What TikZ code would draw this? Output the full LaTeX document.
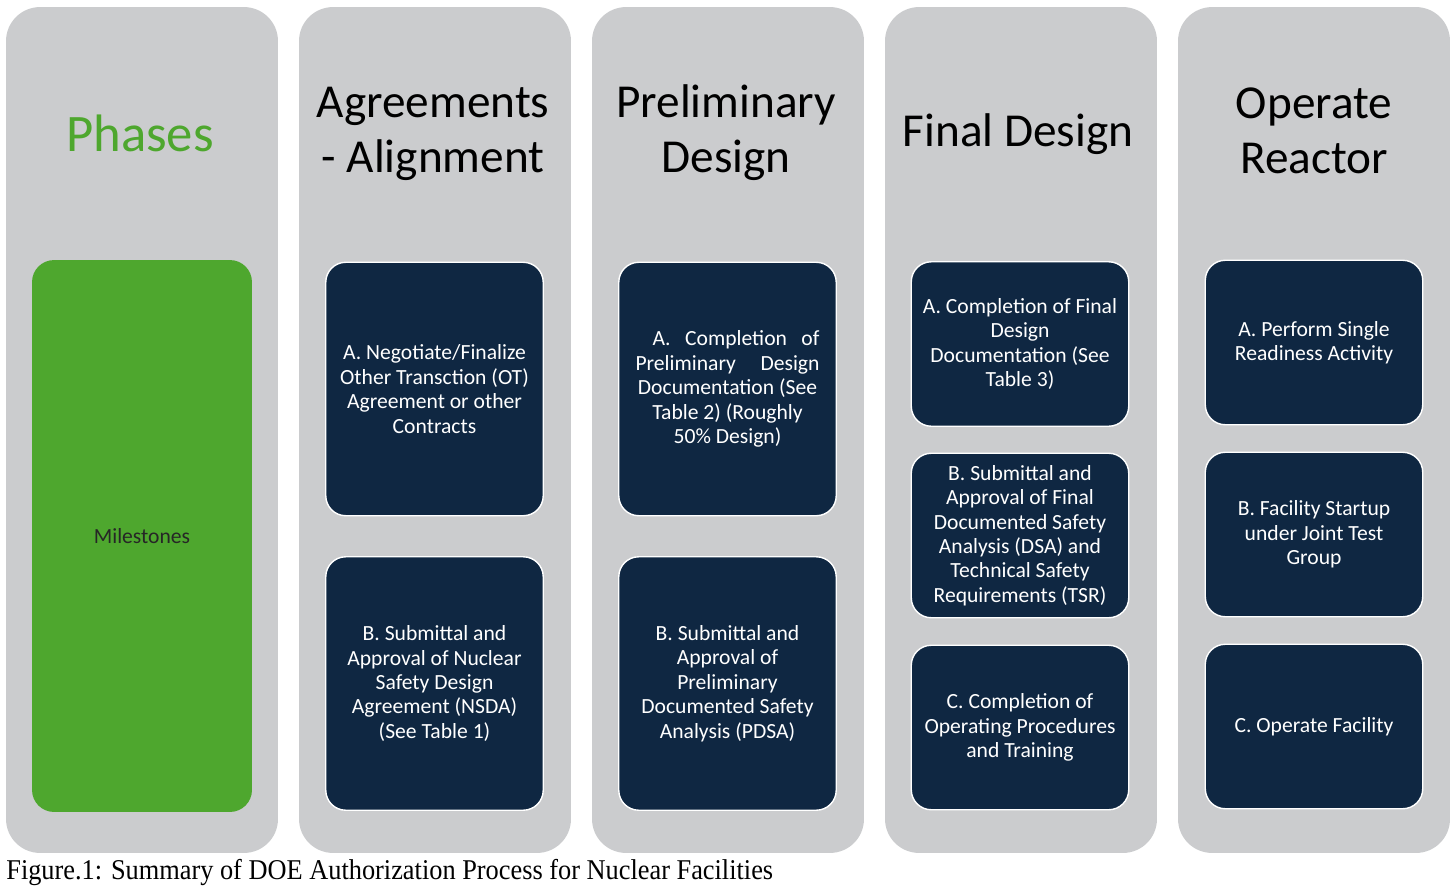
\documentclass[tikz,border=0pt]{standalone}
\usepackage{fontspec}
\setmainfont{Carlito}
\newfontfamily\captionfont[FakeStretch=0.92]{Liberation Serif}
\usepackage{xcolor}
\usepackage{tikz}
\usetikzlibrary{positioning, calc}
\definecolor{colgray}{HTML}{CBCCCE}
\definecolor{phasegreen}{HTML}{4EA72E}
\definecolor{navybox}{HTML}{0F2742}

\begin{document}
\begin{tikzpicture}[x=0.02cm, y=-0.02cm,
    column/.style={fill=colgray, rounded corners=0.68cm, minimum width=5.44cm, minimum height=16.92cm, inner sep=0pt},
    phasetitle/.style={align=center, font=\fontsize{26.9}{31.4}\selectfont, text=black},
    task/.style={fill=navybox, draw=white, line width=0.8pt, rounded corners=0.4cm, text=white, align=center,
        minimum width=4.35cm, inner sep=0pt, font=\fontsize{12.3}{13.9}\selectfont},
    tall/.style={task, minimum height=5.07cm},
    short/.style={task, minimum height=3.29cm}]
    \fill[white] (0,0) rectangle (1456,889);
    \node[column] (colphase) at (142,430) {};
    \node[column] (colagree) at (435,430) {};
    \node[column] (colprelim) at (728,430) {};
    \node[column] (colfinal) at (1021,430) {};
    \node[column] (colop) at (1314,430) {};
    \node[text=phasegreen, font=\fontsize{30}{34}\selectfont] (phases) at (140,133) {Phases};
    \node[phasetitle] (tagree) at (433,134) {Agreements\\- Alignment};
    \node[phasetitle] (tprelim) at (726,133) {Preliminary\\Design};
    \node[phasetitle] (tfinal) at (1018,134) {Final Design};
    \node[phasetitle] (top) at (1314,131) {Operate\\Reactor};
    \node[fill=phasegreen, rounded corners=0.44cm, minimum width=4.4cm, minimum height=11.04cm,
        font=\fontsize{12.3}{13.9}\selectfont, text=black!85] (miles) at (142,536) {Milestones};
    \node[tall] (agreeA) at (434.5,389) {A. Negotiate/Finalize\\Other Transction (OT)\\Agreement or other\\Contracts};
    \node[tall] (agreeB) at (434.5,683.5) {B. Submittal and\\Approval of Nuclear\\Safety Design\\Agreement (NSDA)\\(See Table 1)};
    \node[tall] (prelimA) at (727.5,389) {\makebox[3.68cm]{\hspace{0.34cm}A.\hfill Completion\hfill of}\\
        \makebox[3.68cm]{Preliminary\hfill Design}\\Documentation (See\\Table 2) (Roughly\\50\% Design)};
    \node[tall] (prelimB) at (727.5,683.5) {B. Submittal and\\Approval of\\Preliminary\\Documented Safety\\Analysis (PDSA)};
    \node[short] (finalA) at (1020,344) {A. Completion of Final\\Design\\Documentation (See\\Table 3)};
    \node[short] (finalB) at (1020,535.5) {B. Submittal and\\Approval of Final\\Documented Safety\\Analysis (DSA) and\\Technical Safety\\Requirements (TSR)};
    \node[short] (finalC) at (1020,727.5) {C. Completion of\\Operating Procedures\\and Training};
    \node[short] (opA) at (1314,342.5) {A. Perform Single\\Readiness Activity};
    \node[short] (opB) at (1314,534.5) {B. Facility Startup\\under Joint Test\\Group};
    \node[short] (opC) at (1314,726.5) {C. Operate Facility};
    \node[anchor=base west, inner sep=0pt, font=\captionfont\fontsize{16.3}{18}\selectfont] (caption) at (6,879)
        {Figure.1: Summary of DOE Authorization Process for Nuclear Facilities};
\end{tikzpicture}
\end{document}
